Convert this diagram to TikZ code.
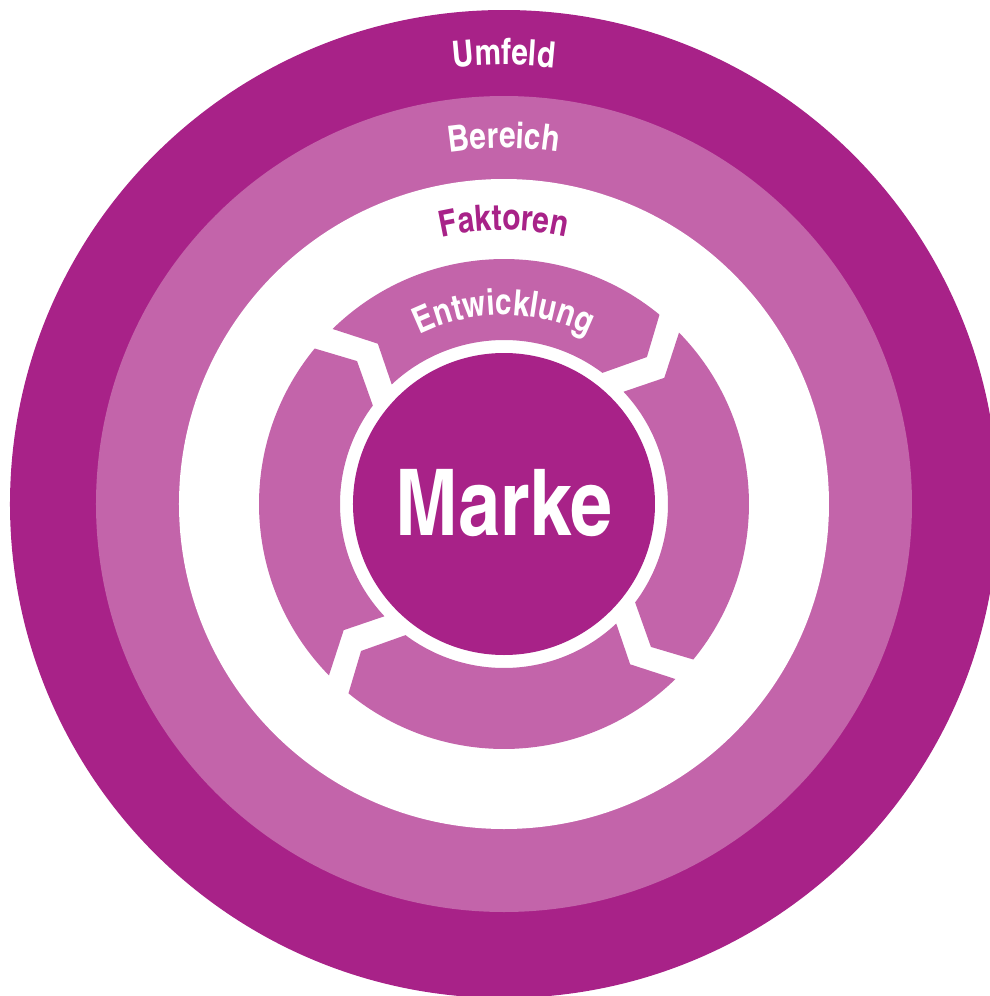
\documentclass[tikz,border=0pt]{standalone}
\usepackage{fontspec}
\setmainfont{TeX Gyre Heros}
\newfontfamily\markefont{texgyreheroscn-bold.otf}
\usepackage{tikz}
\usetikzlibrary{decorations.text}
\definecolor{markedark}{RGB}{168,34,136}
\definecolor{markelight}{RGB}{195,100,170}
\newcommand{\ringfont}{\markefont\fontsize{10.3}{12}\selectfont}
\tikzset{
  ring label/.style 2 args={decorate, decoration={text along path,
      text align=center, text color=#2, text={|\ringfont|#1}}},
  segment/.style={fill=markelight}
}

\begin{document}
\begin{tikzpicture}[x=0.01cm, y=0.01cm]
   \useasboundingbox (-504,-492) rectangle (486,504);
   \fill[markedark] (0,0) circle[radius=494];
   \fill[markelight] (0,0) circle[radius=408];
   \fill[white] (0,0) circle[radius=325];
   % the four arrow segments
   \foreach \g in {47.5,137.5,227.5,317.5}
      \fill[segment] (\g+3.1:245) arc[start angle=\g+3.1, end angle=\g+86.9, radius=245]
         -- (\g+80.7:204) -- (\g+85.7:164)
         arc[start angle=\g+85.7, end angle=\g+5.6, radius=164]
         -- (\g-1.7:205) -- cycle;
   \fill[markedark] (0,0) circle[radius=151];
   \node[text=white, font=\markefont\fontsize{26.2}{30}\selectfont, anchor=base] (marke) at (0,-31) {Marke};
   % labels along the rings
   \path[ring label={Umfeld}{white}] (110:439) arc[start angle=110, end angle=70, radius=439];
   \path[ring label={Bereich}{white}] (112:356) arc[start angle=112, end angle=68, radius=356];
   \path[ring label={Faktoren}{markedark}] (120:274) arc[start angle=120, end angle=60, radius=274];
   \path[ring label={Entwicklung}{white}] (140:189) arc[start angle=140, end angle=40, radius=189];
\end{tikzpicture}
\end{document}
